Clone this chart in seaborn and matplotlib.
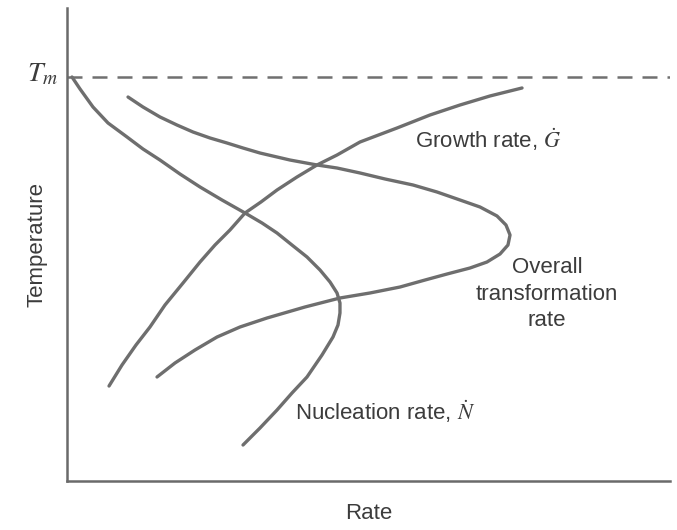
import matplotlib
matplotlib.use("Agg")
import matplotlib.pyplot as plt
import seaborn as sns
import pandas as pd

# ---- data (rate, temperature) in arbitrary units: 0-100 on both axes ----
tm_level = 85.4

nuc_rate = [0.83, 2.16, 4.31, 6.80, 9.95, 12.60, 15.42, 18.74, 22.06, 25.70, 29.52,
            32.34, 34.83, 37.31, 39.80, 41.96, 43.62, 44.78, 45.27, 45.27, 44.94,
            44.11, 42.29, 39.80, 37.31, 34.83, 32.01, 29.19]
nuc_temp = [85.41, 82.88, 79.07, 75.69, 72.73, 70.19, 67.86, 64.90, 62.16, 59.41, 56.66,
            54.55, 52.43, 49.89, 47.36, 44.61, 42.07, 39.75, 37.63, 35.52, 32.98,
            30.44, 26.64, 21.99, 18.60, 15.01, 11.21, 7.61]

overall_rate = [10.12, 12.60, 15.42, 18.24, 20.90, 23.71, 26.53, 29.19, 32.01, 36.98,
                41.46, 44.78, 48.59, 52.74, 57.38, 61.36, 65.17, 68.49, 71.31, 72.80,
                73.47, 73.13, 71.81, 69.65, 66.83, 63.02, 59.37, 55.22, 50.25, 45.27,
                39.47, 33.17, 28.69, 24.88, 21.23, 17.91, 14.93]
overall_temp = [81.18, 79.07, 76.96, 75.26, 73.78, 72.52, 71.46, 70.40, 69.34, 67.86,
                66.81, 66.17, 65.12, 63.85, 62.58, 61.10, 59.41, 57.93, 56.03, 54.12,
                52.01, 49.89, 47.99, 46.30, 45.03, 43.76, 42.49, 41.01, 39.75, 38.69,
                36.79, 34.46, 32.56, 30.44, 27.70, 24.95, 21.99]

growth_rate = [6.97, 9.12, 11.44, 13.76, 16.25, 19.24, 22.06, 24.54, 27.03, 29.52,
               32.17, 34.83, 38.14, 41.46, 44.78, 48.59, 54.73, 60.20, 65.17, 70.15,
               75.46]
growth_temp = [20.08, 24.52, 28.75, 32.56, 37.21, 41.86, 46.30, 49.89, 53.07, 56.66,
               58.99, 61.52, 64.27, 66.81, 68.92, 71.67, 74.63, 77.38, 79.49, 81.40,
               83.09]

line_col = "#6e6e6e"
axis_col = "#6a6a6a"
text_col = "#3c3c3c"

sns.set_theme(style="white")
plt.rcParams["font.family"] = ["Liberation Sans", "DejaVu Sans"]
plt.rcParams["mathtext.fontset"] = "stix"

fig = plt.figure(figsize=(6.77, 5.30), dpi=100, facecolor="white")
ax = fig.add_axes([67 / 677, 1 - 481 / 530, (670 - 67) / 677, (481 - 8) / 530])
ax.set_facecolor("white")

curves = [
    (nuc_rate, nuc_temp),
    (overall_rate, overall_temp),
    (growth_rate, growth_temp),
]
for r, t in curves:
    df = pd.DataFrame({"rate": r, "temp": t})
    sns.lineplot(data=df, x="rate", y="temp", sort=False, estimator=None,
                 color=line_col, lw=2.4, ax=ax,
                 solid_joinstyle="round", solid_capstyle="round")

ax.axhline(tm_level, color="#707070", lw=1.8, ls=(0, (6, 4)))

ax.set_xlim(0, 100)
ax.set_ylim(0, 100)
ax.set_xticks([])
ax.set_yticks([])
for s in ["top", "right"]:
    ax.spines[s].set_visible(False)
for s in ["left", "bottom"]:
    ax.spines[s].set_color(axis_col)
    ax.spines[s].set_linewidth(1.8)

ax.set_xlabel("Rate", fontsize=16, color=text_col, labelpad=16)
ax.set_ylabel("Temperature", fontsize=16, color=text_col, labelpad=14)

ax.text(-1.5, tm_level + 0.5, r"$T_m$", fontsize=20, color=text_col,
        ha="right", va="center")

ax.text(57.7, 72.1, r"Growth rate, $\dot{G}$", fontsize=16, color=text_col,
        ha="left", va="center")
ax.text(79.6, 39.5, "Overall\ntransformation\nrate", fontsize=16, color=text_col,
        ha="center", va="center", linespacing=1.35, multialignment="center")
ax.text(37.8, 14.6, r"Nucleation rate, $\dot{N}$", fontsize=16, color=text_col,
        ha="left", va="center")

fig.savefig("out.png", dpi=100, facecolor="white")
